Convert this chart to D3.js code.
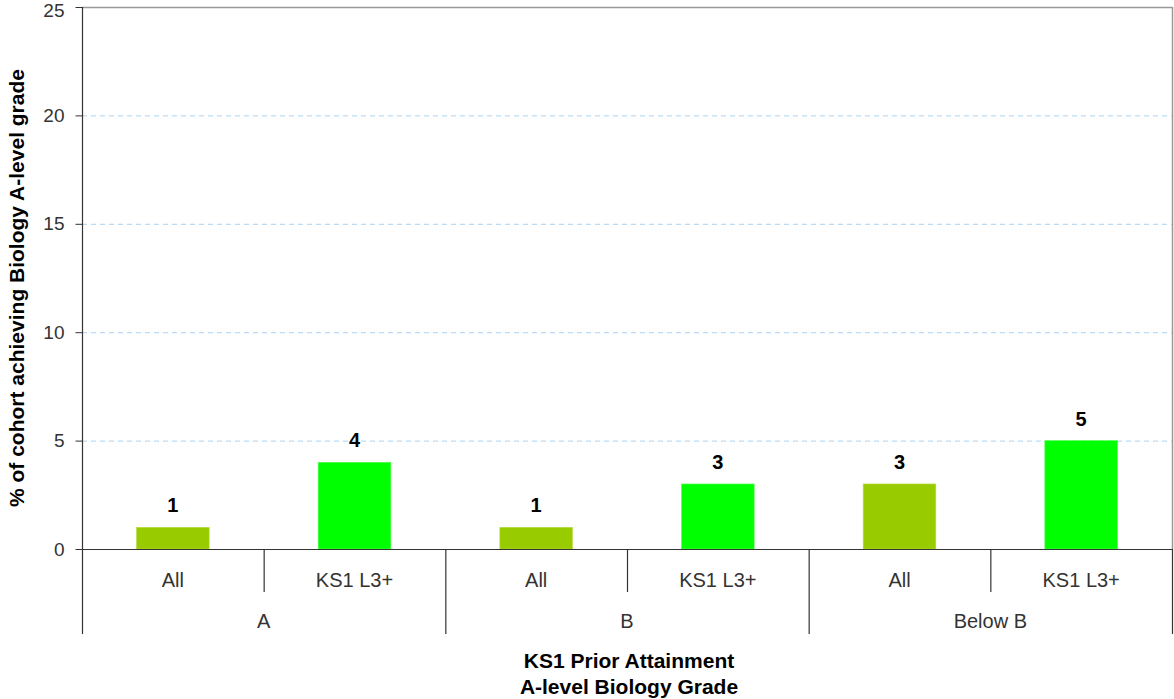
<!DOCTYPE html>
<html><head><meta charset="utf-8">
<script src="https://cdn.jsdelivr.net/npm/d3@7"></script>
<style>body{margin:0;background:#fff;}svg{display:block;font-family:"Liberation Sans",Arial,sans-serif;}</style>
</head><body>
<svg id="c" width="1174" height="699"></svg>
<script>
const groups = ["A", "B", "Below B"];
const series = ["All", "KS1 L3+"];
const allValues = [1, 1, 3];
const ks1Values = [4, 3, 5];
const yTicks = [0, 5, 10, 15, 20, 25];
const colors = ["#99cc00", "#00ff00"];

const rows = [];
groups.forEach((g, gi) => {
  rows.push({group: g, series: series[0], key: g + "|" + series[0], value: allValues[gi], si: 0});
  rows.push({group: g, series: series[1], key: g + "|" + series[1], value: ks1Values[gi], si: 1});
});

const svg = d3.select("#c");
const L = 82, R = 1172, T = 7, B = 549;
const x = d3.scaleBand().domain(rows.map(d => d.key)).range([L, R]).paddingInner(0).paddingOuter(0);
const y = d3.scaleLinear().domain([0, 25]).range([B, T]);

// gridlines
svg.append("g").selectAll("line").data(yTicks.filter(t => t > 0 && t < 25)).join("line")
  .attr("x1", L).attr("x2", R).attr("y1", d => y(d) + 0.5).attr("y2", d => y(d) + 0.5)
  .attr("stroke", "#a9d3f5").attr("stroke-dasharray", "5,4").attr("stroke-width", 1);

// top and right border
svg.append("line").attr("x1", L).attr("x2", R + 0.5).attr("y1", y(25) + 0.5).attr("y2", y(25) + 0.5).attr("stroke", "#999").attr("stroke-width", 1.5);
svg.append("line").attr("x1", R + 0.5).attr("x2", R + 0.5).attr("y1", y(25)).attr("y2", B).attr("stroke", "#999").attr("stroke-width", 1.5);

// bars
const bw = x.bandwidth() * 0.4;
svg.append("g").selectAll("rect").data(rows).join("rect")
  .attr("x", d => x(d.key) + (x.bandwidth() - bw) / 2)
  .attr("width", bw)
  .attr("y", d => y(d.value))
  .attr("height", d => y(0) - y(d.value))
  .attr("fill", d => colors[d.si])
  .attr("stroke", d => d.si === 0 ? "#b5dd40" : "#55ff55").attr("stroke-width", 0.6);

// value labels
svg.append("g").selectAll("text").data(rows).join("text")
  .attr("x", d => x(d.key) + x.bandwidth() / 2)
  .attr("y", d => y(d.value) - 15)
  .attr("text-anchor", "middle")
  .attr("font-size", 20).attr("font-weight", "bold").attr("fill", "#000")
  .text(d => d.value);

// y axis
const yAxis = d3.axisLeft(y).tickValues(yTicks).tickSize(7).tickPadding(11);
const ya = svg.append("g").attr("transform", `translate(${L + 0.5},0)`).call(yAxis);
ya.select(".domain").remove();
ya.selectAll(".tick line").attr("stroke", "#333");
ya.selectAll(".tick text").attr("font-size", 19).attr("fill", "#333").attr("font-family", "Liberation Sans, Arial, sans-serif");
ya.selectAll(".tick text").filter(d => d === 25).attr("dy", "0.32em").attr("y", 3);
svg.append("line").attr("x1", L + 0.5).attr("x2", L + 0.5).attr("y1", T).attr("y2", 634).attr("stroke", "#333").attr("stroke-width", 1.2);

// x axis baseline
svg.append("line").attr("x1", L).attr("x2", R + 1).attr("y1", B + 0.5).attr("y2", B + 0.5).attr("stroke", "#333").attr("stroke-width", 1.2);

// inner category labels
svg.append("g").selectAll("text").data(rows).join("text")
  .attr("x", d => x(d.key) + x.bandwidth() / 2)
  .attr("y", 587)
  .attr("text-anchor", "middle").attr("font-size", 20).attr("fill", "#333")
  .text(d => d.series);

// inner separators (between series within group)
svg.append("g").selectAll("line").data(rows.filter(d => d.si === 1)).join("line")
  .attr("x1", d => x(d.key) + 0.5).attr("x2", d => x(d.key) + 0.5)
  .attr("y1", B).attr("y2", 592).attr("stroke", "#333").attr("stroke-width", 1.2);

// group separators
const gBounds = groups.map(g => x(g + "|" + series[0])).concat([R]);
svg.append("g").selectAll("line").data(gBounds.slice(1)).join("line")
  .attr("x1", d => d + 0.5).attr("x2", d => d + 0.5)
  .attr("y1", B).attr("y2", 634).attr("stroke", "#333").attr("stroke-width", 1.2);

// group labels
svg.append("g").selectAll("text").data(groups).join("text")
  .attr("x", (g, i) => (gBounds[i] + gBounds[i + 1]) / 2)
  .attr("y", 628)
  .attr("text-anchor", "middle").attr("font-size", 20).attr("fill", "#333")
  .text(g => g);

// axis titles
svg.append("text").attr("x", (L + R) / 2 + 2).attr("y", 668).attr("text-anchor", "middle")
  .attr("font-size", 21).attr("font-weight", "bold").attr("fill", "#000").text("KS1 Prior Attainment");
svg.append("text").attr("x", (L + R) / 2 + 2).attr("y", 694).attr("text-anchor", "middle")
  .attr("font-size", 21).attr("font-weight", "bold").attr("fill", "#000").text("A-level Biology Grade");
svg.append("text").attr("transform", `translate(24,${(T + B) / 2 + 10}) rotate(-90)`).attr("text-anchor", "middle")
  .attr("font-size", 21).attr("font-weight", "bold").attr("fill", "#000").text("% of cohort achieving Biology A-level grade");
</script>
</body></html>
